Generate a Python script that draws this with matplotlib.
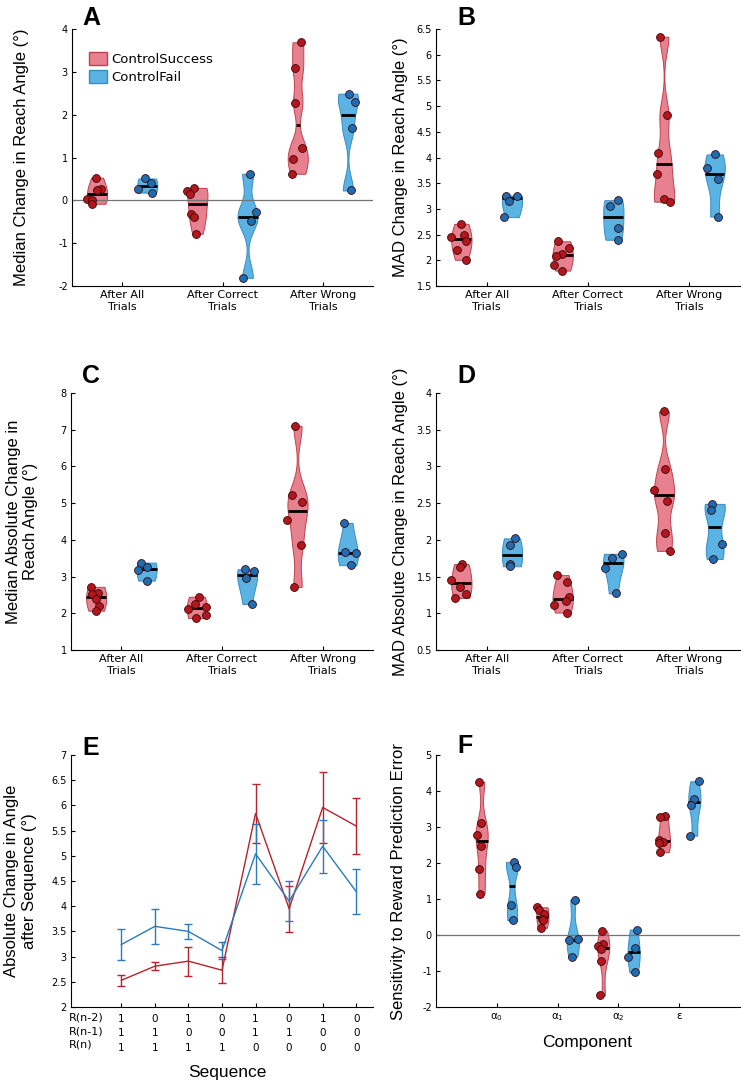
import matplotlib
matplotlib.use("Agg")
import matplotlib.pyplot as plt
import numpy as np
from matplotlib.patches import Patch
from matplotlib.ticker import FormatStrFormatter

W, H = 741, 1082

categories = ["After All\nTrials", "After Correct\nTrials", "After Wrong\nTrials"]
groups = ["ControlSuccess", "ControlFail"]

# A: median change in reach angle
a_success = [[0.53, 0.26, 0.25, 0.04, 0.0, -0.08],
             [0.29, 0.21, 0.15, -0.33, -0.38, -0.78],
             [3.69, 3.09, 2.28, 1.23, 0.97, 0.62]]
a_fail = [[0.51, 0.41, 0.26, 0.18],
          [0.62, -0.28, -0.48, -1.81],
          [2.49, 2.30, 1.68, 0.23]]
# B: MAD change in reach angle
b_success = [[2.71, 2.49, 2.45, 2.38, 2.20, 2.01],
             [2.37, 2.23, 2.12, 2.08, 1.90, 1.80],
             [6.35, 4.82, 4.08, 3.67, 3.20, 3.14]]
b_fail = [[3.26, 3.25, 3.16, 2.84],
          [3.17, 3.05, 2.62, 2.40],
          [4.06, 3.79, 3.58, 2.85]]
# C: median absolute change
c_success = [[2.72, 2.56, 2.52, 2.38, 2.21, 2.07],
             [2.45, 2.24, 2.16, 2.12, 1.95, 1.87],
             [7.10, 5.21, 5.03, 4.54, 3.86, 2.72]]
c_fail = [[3.38, 3.25, 3.17, 2.89],
          [3.20, 3.14, 2.96, 2.25],
          [4.46, 3.66, 3.65, 3.31]]
# D: MAD absolute change
d_success = [[1.67, 1.63, 1.46, 1.36, 1.26, 1.21],
             [1.52, 1.42, 1.22, 1.17, 1.11, 1.01],
             [3.75, 2.96, 2.68, 2.53, 2.10, 1.85]]
d_fail = [[2.02, 1.93, 1.67, 1.64],
          [1.81, 1.75, 1.62, 1.27],
          [2.49, 2.40, 1.95, 1.74]]

# E: absolute change after sequence (mean, error)
seq_labels = ["1\n1\n1", "0\n1\n1", "1\n0\n1", "0\n0\n1",
              "1\n1\n0", "0\n1\n0", "1\n0\n0", "0\n0\n0"]
e_success_mean = [2.53, 2.81, 2.91, 2.73, 5.84, 3.95, 5.96, 5.59]
e_success_err = [0.11, 0.075, 0.29, 0.26, 0.58, 0.46, 0.71, 0.56]
e_fail_mean = [3.24, 3.60, 3.50, 3.12, 5.04, 4.10, 5.19, 4.29]
e_fail_err = [0.30, 0.345, 0.15, 0.165, 0.595, 0.40, 0.53, 0.44]

# F: sensitivity to reward prediction error
components = ["α$_0$", "α$_1$", "α$_2$", "ε"]
f_success = [[4.25, 3.10, 2.77, 2.48, 1.83, 1.15],
             [0.77, 0.70, 0.57, 0.45, 0.42, 0.20],
             [0.12, -0.24, -0.30, -0.40, -0.73, -1.68],
             [3.30, 3.27, 2.65, 2.58, 2.55, 2.30]]
f_fail = [[2.03, 1.90, 0.84, 0.41],
          [0.98, -0.10, -0.15, -0.60],
          [0.15, -0.36, -0.60, -1.04],
          [4.27, 3.77, 3.61, 2.76]]

# horizontal jitter of the dots (data units, same order as the values)
a_success_jit = [[-0.01, 0.04, 0.0, -0.10, -0.05, -0.05], [-0.03, -0.10, -0.07, -0.06, -0.03, -0.01], [0.03, -0.03, -0.03, 0.04, -0.05, -0.06]]
a_fail_jit = [[-0.02, 0.04, -0.09, 0.05], [0.02, 0.08, 0.03, -0.05], [0.01, 0.07, 0.04, 0.03]]
b_success_jit = [[0.0, 0.03, -0.10, 0.05, -0.04, 0.05], [-0.05, 0.06, -0.01, -0.07, -0.09, -0.01], [-0.04, 0.03, -0.06, -0.07, 0.0, 0.06]]
b_fail_jit = [[0.05, -0.06, -0.03, -0.08], [0.05, -0.03, 0.05, 0.05], [0.0, -0.08, 0.03, 0.03]]
c_success_jit = [[-0.05, 0.02, -0.04, 0.0, 0.03, 0.0], [0.02, -0.02, 0.09, -0.09, 0.09, -0.01], [-0.02, -0.05, 0.04, -0.10, 0.03, -0.03]]
c_fail_jit = [[-0.05, 0.0, -0.08, 0.0], [-0.02, 0.07, -0.01, 0.05], [-0.04, -0.03, 0.08, 0.03]]
d_success_jit = [[0.01, -0.01, -0.10, -0.01, 0.05, -0.06], [-0.06, 0.04, 0.06, 0.03, -0.09, 0.04], [0.0, 0.01, -0.10, 0.03, 0.01, 0.06]]
d_fail_jit = [[0.03, -0.02, -0.02, -0.02], [0.09, -0.01, -0.08, 0.03], [-0.03, -0.04, 0.07, -0.02]]
f_success_jit = [[-0.05, -0.01, -0.07, -0.01, -0.04, -0.02], [-0.09, -0.05, 0.02, 0.0, 0.01, -0.02], [-0.02, -0.01, -0.08, -0.04, -0.04, -0.05], [0.02, -0.07, -0.09, -0.01, -0.09, -0.06]]
f_fail_jit = [[0.03, 0.07, -0.01, 0.01], [0.03, 0.08, -0.06, -0.02], [0.05, 0.02, -0.10, 0.03], [0.07, 0.0, -0.05, -0.07]]

red_fill, red_edge, red_dot, red_line = "#e7808f", "#c0414c", "#b3161d", "#b5242d"
blue_fill, blue_edge, blue_dot, blue_line = "#5ab3e2", "#3a8cc4", "#1d6db5", "#2b7bbb"

LABEL_FONT = ["Liberation Sans", "DejaVu Sans"]
plt.rcParams["font.family"] = ["DejaVu Sans"]
plt.rcParams["axes.linewidth"] = 0.8

fig = plt.figure(figsize=(W / 100, H / 100), dpi=100)


def px_axes(x0, y0, x1, y1):
    return fig.add_axes([x0 / W, 1 - y1 / H, (x1 - x0) / W, (y1 - y0) / H])


def style(ax):
    ax.spines["top"].set_visible(False)
    ax.spines["right"].set_visible(False)
    ax.tick_params(direction="in", length=3, width=0.8, labelsize=7, pad=3)
    ax.yaxis.set_major_formatter(FormatStrFormatter("%g"))


def fixed_bw(bw):
    return lambda kde: bw / kde.dataset.ravel().std(ddof=1)


def violins(ax, data, jit, xs, offset, bw, face, edge, dot):
    pos = [x + offset for x in xs]
    vp = ax.violinplot(data, positions=pos, widths=0.2, showextrema=False,
                       bw_method=fixed_bw(bw), points=200)
    for body, p, vals, jj in zip(vp["bodies"], pos, data, jit):
        body.set_facecolor(face)
        body.set_edgecolor(edge)
        body.set_alpha(1)
        body.set_linewidth(0.7)
        body.set_zorder(2)
        v = body.get_paths()[0].vertices
        r = v[v[:, 0] > p]
        o = np.argsort(r[:, 1])
        med = np.median(vals)
        hw = np.interp(med, r[o, 1], r[o, 0]) - p
        ax.plot([p - hw, p + hw], [med, med], color="black", lw=2,
                solid_capstyle="butt", zorder=3)
        ax.scatter(p + np.array(jj), vals, s=32, color=dot, edgecolor="#3a0808",
                   linewidths=0.6, zorder=4)


def violin_panel(ax, success, fail, s_jit, f_jit, bw, ylim, ystep, ylabel, lab_x):
    xs = [1, 2, 3]
    violins(ax, success, s_jit, xs, -0.25, bw, red_fill, red_edge, red_dot)
    violins(ax, fail, f_jit, xs, 0.25, bw, blue_fill, blue_edge, blue_dot)
    ax.set_xlim(0.5, 3.5)
    ax.set_ylim(*ylim)
    ax.set_yticks(np.arange(ylim[0], ylim[1] + 1e-9, ystep))
    ax.set_xticks(xs, categories)
    style(ax)
    ax.tick_params(axis="x", labelsize=8)
    ax.set_ylabel(ylabel, fontsize=12, family=LABEL_FONT)
    ax.yaxis.set_label_coords(lab_x, 0.5)


def letter(x, y, s):
    fig.text(x / W, 1 - y / H, s, fontsize=18, weight="bold", family=LABEL_FONT,
             va="baseline", ha="left")


axA = px_axes(72, 29, 373, 286)
axA.axhline(0, color="0.45", lw=0.9, zorder=2.5)
violin_panel(axA, a_success, a_fail, a_success_jit, a_fail_jit, 0.3, (-2, 4), 1,
             "Median Change in Reach Angle (°)", -0.143)
axA.legend([Patch(facecolor=red_fill, edgecolor=red_edge), Patch(facecolor=blue_fill, edgecolor=blue_edge)],
           groups, loc="upper left", bbox_to_anchor=(0.058, 0.91), frameon=False, fontsize=9.5,
           handlelength=1.3, handleheight=1.1, handletextpad=0.35, labelspacing=0.3,
           borderpad=0, borderaxespad=0)

axB = px_axes(436, 29, 740, 286)
violin_panel(axB, b_success, b_fail, b_success_jit, b_fail_jit, 0.3, (1.5, 6.5), 0.5,
             "MAD Change in Reach Angle (°)", -0.092)

axC = px_axes(71, 393, 373, 650)
violin_panel(axC, c_success, c_fail, c_success_jit, c_fail_jit, 0.42, (1, 8), 1,
             "Median Absolute Change in\nReach Angle (°)", -0.109)

axD = px_axes(436, 393, 740, 650)
violin_panel(axD, d_success, d_fail, d_success_jit, d_fail_jit, 0.19, (0.5, 4), 0.5,
             "MAD Absolute Change in Reach Angle (°)", -0.092)

# E
axE = px_axes(71, 755, 373, 1007)
xe = np.arange(1, len(seq_labels) + 1)
axE.errorbar(xe, e_success_mean, yerr=e_success_err, color=red_line, lw=1, capsize=3,
             elinewidth=1, capthick=1)
axE.errorbar(xe, e_fail_mean, yerr=e_fail_err, color=blue_line, lw=1, capsize=3,
             elinewidth=1, capthick=1)
axE.set_xlim(-0.5, 8.5)
axE.set_ylim(2, 7)
axE.set_yticks(np.arange(2, 7.01, 0.5))
axE.set_xticks(xe, seq_labels)
style(axE)
axE.tick_params(axis="x", labelsize=7.5, pad=5)
for lbl in axE.get_xticklabels():
    lbl.set_linespacing(1.55)
axE.text(-0.006, -0.022, "R(n-2)\nR(n-1)\nR(n)", transform=axE.transAxes, fontsize=8,
         ha="left", va="top", linespacing=1.45)
axE.set_ylabel("Absolute Change in Angle\nafter Sequence (°)", fontsize=12, family=LABEL_FONT)
axE.yaxis.set_label_coords(-0.113, 0.5)
axE.set_xlabel("Sequence", fontsize=12.5, family=LABEL_FONT)
axE.xaxis.set_label_coords(0.517, -0.258)
axE.xaxis.label.set_va("center")

# F
axF = px_axes(436, 755, 740, 1007)
axF.axhline(0, color="0.45", lw=0.9, zorder=2.5)
xf = [1, 2, 3, 4]
violins(axF, f_success, f_success_jit, xf, -0.25, 0.35, red_fill, red_edge, red_dot)
violins(axF, f_fail, f_fail_jit, xf, 0.25, 0.35, blue_fill, blue_edge, blue_dot)
axF.set_xlim(0, 5)
axF.set_ylim(-2, 5)
axF.set_yticks(np.arange(-2, 5.01, 1))
axF.set_xticks(xf, components)
style(axF)
axF.tick_params(axis="x", labelsize=7.5)
axF.set_ylabel("Sensitivity to Reward Prediction Error", fontsize=12, family=LABEL_FONT)
axF.yaxis.set_label_coords(-0.099, 0.5)
axF.set_xlabel("Component", fontsize=12.5, family=LABEL_FONT)
axF.xaxis.set_label_coords(0.497, -0.139)
axF.xaxis.label.set_va("center")

letter(82, 25, "A")
letter(457, 25, "B")
letter(82, 383, "C")
letter(457, 383, "D")
letter(82, 755, "E")
letter(457, 753, "F")

fig.savefig("out.png", dpi=100)
